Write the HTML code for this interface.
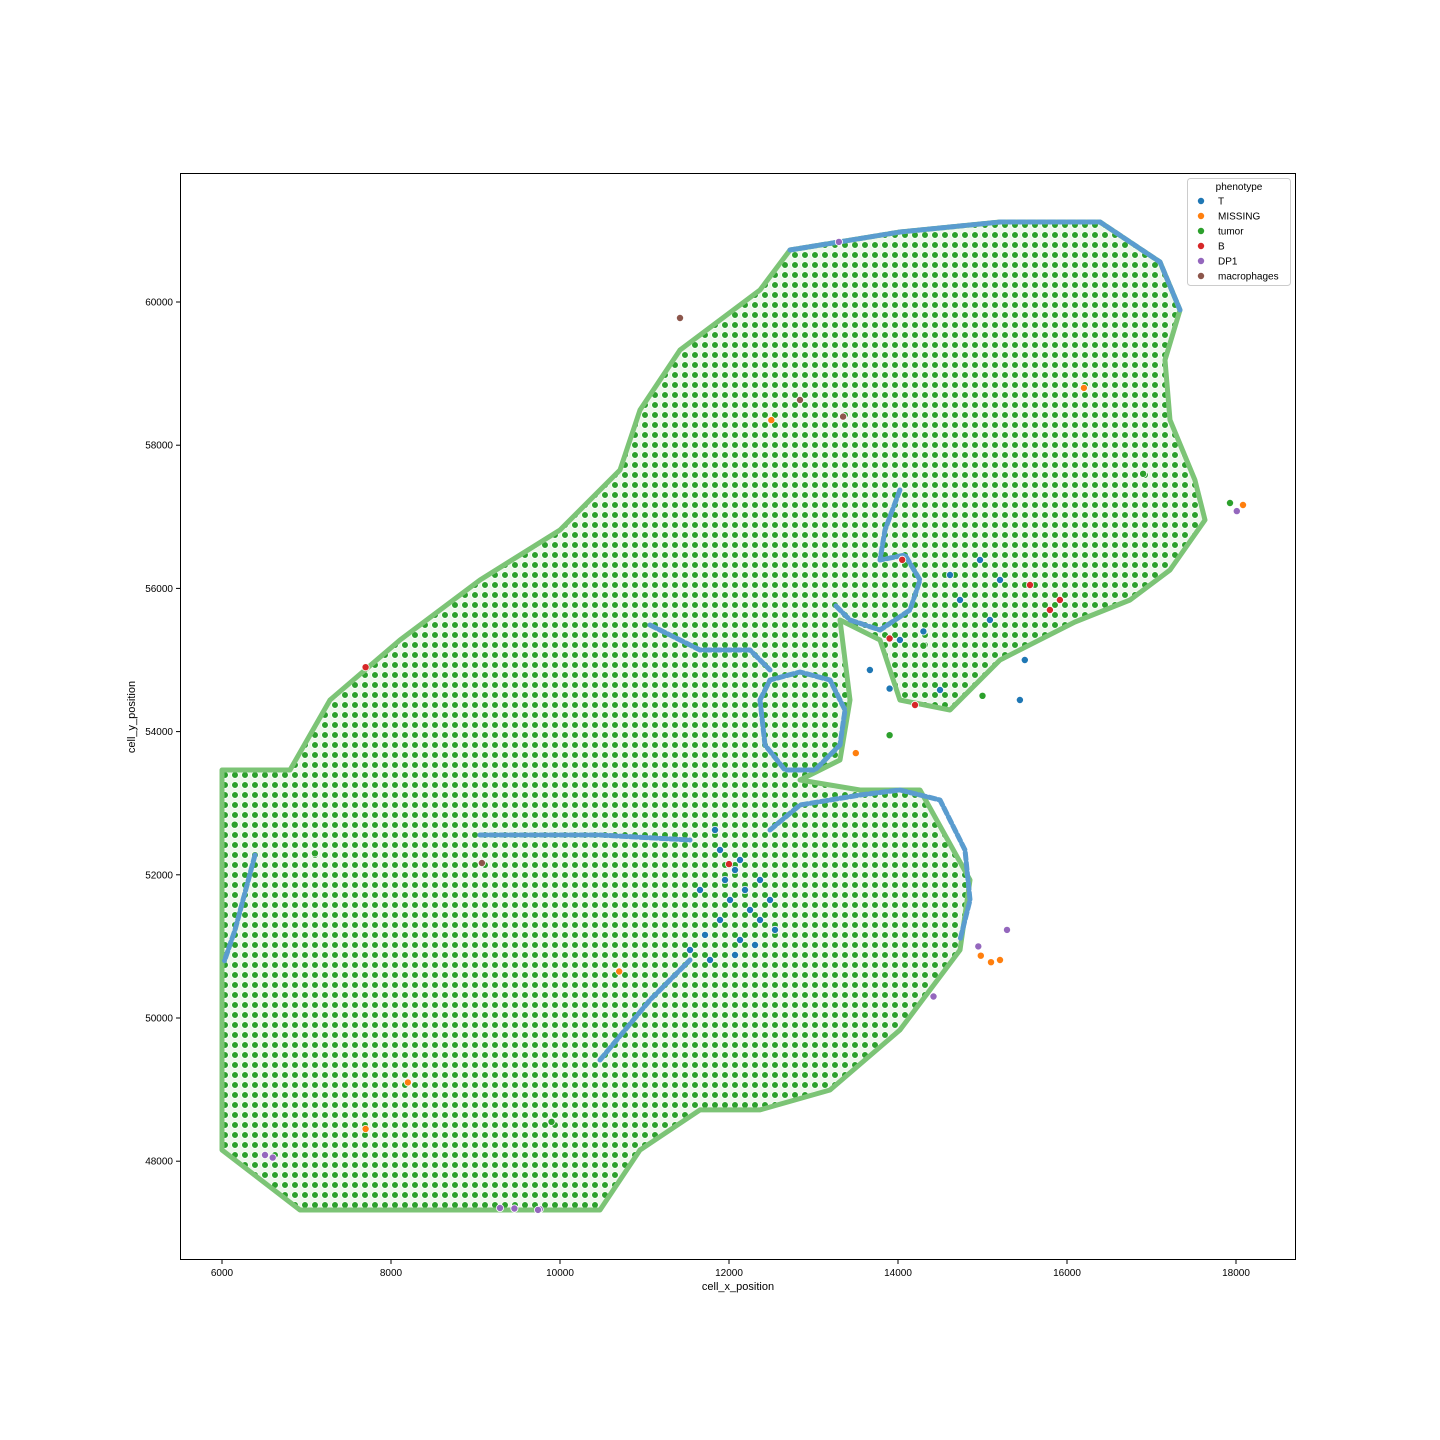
<!DOCTYPE html>
<html><head><meta charset="utf-8"><style>
html,body{margin:0;padding:0;background:#fff;}
svg{display:block;font-family:"Liberation Sans","DejaVu Sans",sans-serif;}
</style></head><body>
<svg id="chart" width="1440" height="1440" viewBox="0 0 1440 1440">
<defs>
<pattern id="cells" width="10" height="10" patternUnits="userSpaceOnUse">
<rect width="10" height="10" fill="#eef7ec"/>
<circle cx="5" cy="5" r="3.4" fill="#2ca02c" stroke="#ffffff" stroke-width="0.8"/>
</pattern>
</defs>
<rect x="0" y="0" width="1440" height="1440" fill="#fff"/>
<g id="plot"></g>
<rect x="180.5" y="173.5" width="1115" height="1086" fill="none" stroke="#000" stroke-width="1"/>
<g id="axes"></g>
<text x="738" y="1290" text-anchor="middle" font-size="11">cell_x_position</text>
<text x="135" y="717" text-anchor="middle" font-size="11" transform="rotate(-90 135 717)">cell_y_position</text>
<g>
<rect x="1187.5" y="178.5" width="103" height="107" rx="3" fill="#fff" fill-opacity="0.8" stroke="#ccc"/>
<text x="1239" y="190" text-anchor="middle" font-size="10">phenotype</text>
<g id="legend-items"></g>
</g>
</svg>
<script>
const xTicks = [6000, 8000, 10000, 12000, 14000, 16000, 18000];
const yTicks = [48000, 50000, 52000, 54000, 56000, 58000, 60000];
const categories = ["T", "MISSING", "tumor", "B", "DP1", "macrophages"];
const colors = ["#1f77b4", "#ff7f0e", "#2ca02c", "#d62728", "#9467bd", "#8c564b"];

// tissue outline (data coords)
const tissueX = [6000,6805,7278,8106,9053,10000,10710,10947,11420,12367,12722,14023,15207,16390,17100,17337,17160,17219,17514,17633,17219,16745,16094,15207,14615,14023,13787,13314,13432,13314,12840,13550,14260,14852,14734,14023,13195,12367,11657,10947,10473,6923,6000,6000];
const tissueY = [53464,53464,54442,55280,56117,56816,57654,58492,59330,60168,60726,60978,61117,61117,60559,59888,59190,58352,57514,56955,56257,55838,55531,55000,54302,54442,55280,55559,54442,53604,53324,53185,53185,51928,50950,49833,48995,48716,48716,48157,47319,47319,48157,51649];

// T-cell boundary strands (data coords)
const strandsX = [
 [12367,12485,12840,13195,13373,13314,13018,12662,12426,12367],
 [12485,12840,13550,14023,14497,14793,14852,14734],
 [11065,11657,12248,12485],
 [14023,13846,13787,14083,14260,14142,13787,13432,13254],
 [6391,6154,6030],
 [9053,10473,11538],
 [10473,11065,11538],
 [12722,14023,15207,16390,17100,17337]
];
const strandsY = [
 [54442,54721,54833,54721,54302,53813,53464,53464,53813,54442],
 [52626,52975,53115,53185,53045,52347,51648,51090],
 [55489,55140,55140,54861],
 [57374,56816,56397,56467,56117,55698,55419,55559,55768],
 [52277,51229,50800],
 [52556,52556,52486],
 [49414,50252,50810],
 [60726,60978,61117,61117,60559,59888]
];

// individual cells
const tX = [11834,11893,12071,12189,12012,12248,12367,12130,11893,11716,11538,11775,12367,12485,12544,11953,11657,12130,12308,12071,14615,14970,15207,14023,13668,14497,15443,14734,15088,13900,14300,15500];
const tY = [52626,52347,52067,51788,51648,51509,51369,51090,51369,51160,50950,50810,51928,51648,51230,51928,51788,52207,51020,50880,56187,56397,56117,55280,54861,54581,54442,55838,55559,54600,55400,55000];
const missX = [18083,15207,15100,14980,13500,12500,7700,8200,10700,16200];
const missY = [57165,50810,50780,50870,53700,58350,48450,49100,50650,58800];
const tumorX = [17929,13900,14300,9900,7100,6150,15000,16900];
const tumorY = [57193,53950,55200,48550,52300,52700,54500,57600];
const bX = [15798,15562,15916,13900,14201,7700,12000,14050];
const bY = [55698,56048,55838,55300,54372,54900,52150,56400];
const dpX = [15290,14950,6509,6600,9290,9460,9760,9740,18010,14420,13300];
const dpY = [51230,51000,48087,48050,47347,47340,47330,47320,57080,50300,60840];
const macX = [11420,12840,9076,13350];
const macY = [59777,58631,52165,58400];

const X0 = 222, XS = 169/2000, Y0 = 302, YS = 143.2/2000;
function sx(v){ return X0 + (v - 6000) * XS; }
function sy(v){ return Y0 - (v - 60000) * YS; }
const NS = "http://www.w3.org/2000/svg";
const plot = document.getElementById("plot");
const axes = document.getElementById("axes");

let d = tissueX.map((x,i)=>(i?"L":"M")+sx(x).toFixed(1)+","+sy(tissueY[i]).toFixed(1)).join(" ")+"Z";
const poly = document.createElementNS(NS,"path");
poly.setAttribute("d", d);
poly.setAttribute("fill", "url(#cells)");
poly.setAttribute("stroke", "#7cc476");
poly.setAttribute("stroke-width", "5");
poly.setAttribute("stroke-linejoin", "round");


plot.appendChild(poly);

strandsX.forEach((xs,k)=>{
  const p = document.createElementNS(NS,"path");
  p.setAttribute("d", xs.map((x,i)=>(i?"L":"M")+sx(x).toFixed(1)+","+sy(strandsY[k][i]).toFixed(1)).join(" "));
  p.setAttribute("fill","none");
  p.setAttribute("stroke","#5a9ccf");
  p.setAttribute("stroke-width","5");
  p.setAttribute("stroke-linecap","round");
  p.setAttribute("stroke-linejoin","round");
  p.setAttribute("stroke-dasharray","7 3");
  
  
  plot.appendChild(p);
});

function drawPts(xs, ys, color, name){
  xs.forEach((x,i)=>{
    const c = document.createElementNS(NS,"circle");
    c.setAttribute("cx", sx(x).toFixed(1));
    c.setAttribute("cy", sy(ys[i]).toFixed(1));
    c.setAttribute("r", "3.6");
    c.setAttribute("fill", color);
    c.setAttribute("stroke", "#fff");
    c.setAttribute("stroke-width", "0.8");
    
    
    plot.appendChild(c);
  });
}
drawPts(tumorX, tumorY, colors[2], "tumor-point");
drawPts(tX, tY, colors[0], "t-cell-point");
drawPts(missX, missY, colors[1], "missing-point");
drawPts(bX, bY, colors[3], "b-cell-point");
drawPts(dpX, dpY, colors[4], "dp1-point");
drawPts(macX, macY, colors[5], "macrophage-point");

xTicks.forEach(v=>{
  const x = sx(v);
  const l = document.createElementNS(NS,"line");
  l.setAttribute("x1",x); l.setAttribute("x2",x); l.setAttribute("y1",1260); l.setAttribute("y2",1264);
  l.setAttribute("stroke","#000");
  
  
  axes.appendChild(l);
  const t = document.createElementNS(NS,"text");
  t.setAttribute("x",x); t.setAttribute("y",1276); t.setAttribute("text-anchor","middle"); t.setAttribute("font-size","10");
  t.textContent = v;
  
  
  axes.appendChild(t);
});
yTicks.forEach(v=>{
  const y = sy(v);
  const l = document.createElementNS(NS,"line");
  l.setAttribute("x1",176); l.setAttribute("x2",180); l.setAttribute("y1",y); l.setAttribute("y2",y);
  l.setAttribute("stroke","#000");
  
  
  axes.appendChild(l);
  const t = document.createElementNS(NS,"text");
  t.setAttribute("x",173); t.setAttribute("y",y+3.5); t.setAttribute("text-anchor","end"); t.setAttribute("font-size","10");
  t.textContent = v;
  
  
  axes.appendChild(t);
});

const li = document.getElementById("legend-items");
categories.forEach((c,i)=>{
  const y = 201 + i*15;
  const m = document.createElementNS(NS,"circle");
  m.setAttribute("cx",1201); m.setAttribute("cy",y); m.setAttribute("r",3.6);
  m.setAttribute("fill",colors[i]); m.setAttribute("stroke","#fff"); m.setAttribute("stroke-width","0.8");
  
  
  li.appendChild(m);
  const t = document.createElementNS(NS,"text");
  t.setAttribute("x",1218); t.setAttribute("y",y+3.5); t.setAttribute("font-size","10");
  t.textContent = c;
  
  
  li.appendChild(t);
});
</script>
</body></html>
